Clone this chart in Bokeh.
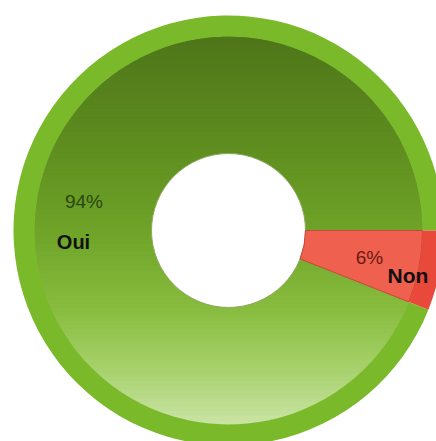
import numpy as np
from bokeh.plotting import figure
from bokeh.models import Range1d
from bokeh.core.properties import value
from bokeh.embed import file_html
from bokeh.resources import INLINE

# ---- data ----
categories = ["Oui", "Non"]
percents = [94, 6]
pct_labels = ["94%", "6%"]
inner_colors = ["#6ea42a", "#f0604f"]
ring_colors = ["#7aba2a", "#e9493a"]

# ---- layout (pixels == data units) ----
W, H = 436, 441
CX, CY = 228, H - 230
R_HOLE, R_IN, R_OUT = 77, 194, 215

p = figure(width=W, height=H, output_backend="svg", toolbar_location=None,
           x_range=Range1d(0, W), y_range=Range1d(0, H),
           x_axis_location=None, y_axis_location=None, min_border=0)
p.outline_line_color = None
p.grid.visible = False
p.background_fill_color = "white"
p.border_fill_color = "white"

frac = np.array(percents, dtype=float) / sum(percents)
ends = np.cumsum(frac) * 2 * np.pi
starts = np.concatenate([[0.0], ends[:-1]])

# base wedge (inner part, green)
p.annular_wedge(x=CX, y=CY, inner_radius=R_HOLE, outer_radius=R_IN,
                start_angle=starts[:1], end_angle=ends[:1],
                fill_color=inner_colors[0], line_color=None)

# vertical gradient overlay for the green disc
stops_t = [0.0, 0.3, 0.5, 0.7, 0.85, 1.0]
stops_c = [(78, 118, 26), (96, 143, 32), (110, 163, 40), (135, 188, 62),
           (165, 208, 105), (202, 228, 165)]
n = 90
edges = np.linspace(CY + R_IN, CY - R_IN, n + 1)
xs, ys, cols = [], [], []
for i in range(n):
    y0, y1 = edges[i + 1], edges[i]
    yy = np.linspace(y0, y1, 5)
    half = np.sqrt(np.clip(R_IN ** 2 - (yy - CY) ** 2, 0, None))
    px = list(CX + half) + list((CX - half)[::-1])
    py = list(yy) + list(yy[::-1])
    xs.append(px)
    ys.append(py)
    t = (i + 0.5) / n
    c = [int(round(np.interp(t, stops_t, [s[k] for s in stops_c]))) for k in range(3)]
    cols.append("#%02x%02x%02x" % tuple(c))
p.patches(xs=xs, ys=ys, fill_color=cols, line_color=cols, line_width=1)

# hole
p.circle(x=[CX], y=[CY], radius=R_HOLE, fill_color="white",
         line_color="#8fa860", line_width=1)

# red slice inner part
p.annular_wedge(x=CX, y=CY, inner_radius=R_HOLE, outer_radius=R_IN,
                start_angle=starts[1:], end_angle=ends[1:],
                fill_color=inner_colors[1], line_color="#c9463a", line_width=1)

# outer ring
p.annular_wedge(x=CX, y=CY, inner_radius=R_IN, outer_radius=R_OUT,
                start_angle=starts, end_angle=ends,
                fill_color=ring_colors, line_color=None)

# labels
font = value("Liberation Sans")
p.text(x=[83.5], y=[H - 201], text=[pct_labels[0]], text_font=font,
       text_font_size="19px", text_color="#2a460e",
       text_align="center", text_baseline="middle")
p.text(x=[73], y=[H - 241], text=[categories[0]], text_font=font,
       text_font_size="20px", text_font_style="bold", text_color="#111111",
       text_align="center", text_baseline="middle")
p.text(x=[369], y=[H - 256.5], text=[pct_labels[1]], text_font=font,
       text_font_size="19px", text_color="#6a1a12",
       text_align="center", text_baseline="middle")
p.text(x=[387], y=[H - 274.5], text=[categories[1]], text_font=font,
       text_font_size="21px", text_font_style="bold", text_color="#111111",
       text_align="left", text_baseline="middle")

open("out.html", "w").write(file_html(p, INLINE))
